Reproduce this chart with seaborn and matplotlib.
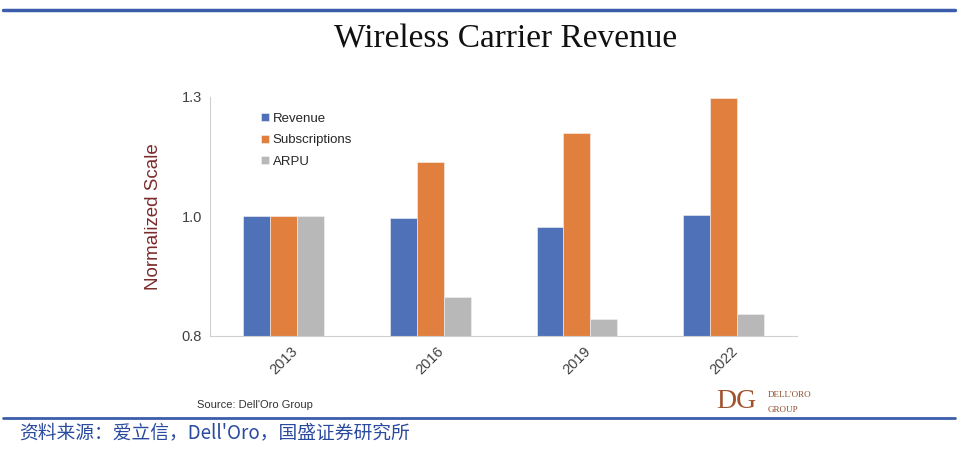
import pandas as pd
import matplotlib.pyplot as plt
from matplotlib.lines import Line2D
import seaborn as sns

# data
years = ["2013", "2016", "2019", "2022"]
revenue = [1.000, 0.996, 0.979, 1.004]
subscriptions = [1.000, 1.113, 1.174, 1.247]
arpu = [1.000, 0.831, 0.786, 0.795]
series = ["Revenue", "Subscriptions", "ARPU"]
colors = ["#4f71b8", "#e07f3e", "#b8b8b8"]
yticks = [0.75, 1.0, 1.25]
ytick_labels = ["0.8", "1.0", "1.3"]

df = pd.DataFrame({
    "year": years * 3,
    "value": revenue + subscriptions + arpu,
    "series": [s for s in series for _ in years],
})

sns.set_style("white")
plt.rcParams["font.family"] = ["Liberation Sans", "DejaVu Sans"]

fig = plt.figure(figsize=(9.6, 4.51), dpi=100)
ax = fig.add_axes([0.219, 0.255, 0.611, 0.530])

sns.barplot(data=df, x="year", y="value", hue="series", palette=colors,
            saturation=1, width=0.55, edgecolor="#f4f4f4", linewidth=0.4,
            ax=ax, legend=True)

ax.set_ylim(0.75, 1.25)
ax.set_xlim(-0.5, 3.5)
ax.set_yticks(yticks)
ax.set_yticklabels(ytick_labels, fontsize=10.5, color="#404040")
ax.set_xticks(range(len(years)))
ax.set_xticklabels(years, rotation=45, fontsize=10.5, color="#404040")
ax.set_xticks([-0.5, 0.5, 1.5, 2.5, 3.5], minor=True)
ax.tick_params(axis="x", which="major", length=0, pad=6)
ax.tick_params(axis="x", which="minor", length=4, color="#d0d0d0", width=0.8)
ax.tick_params(axis="y", length=4, color="#d0d0d0", width=0.8, pad=2)
ax.set_xlabel("")
ax.set_ylabel("Normalized Scale", fontsize=13.5, color="#7b2b2b", labelpad=14)
for side in ["top", "right"]:
    ax.spines[side].set_visible(False)
for side in ["left", "bottom"]:
    ax.spines[side].set_color("#d0d0d0")
    ax.spines[side].set_linewidth(0.8)

ax.legend(loc="upper left", bbox_to_anchor=(0.078, 0.955), frameon=False,
          fontsize=9.5, handlelength=0.55, handleheight=0.55, handletextpad=0.3,
          labelspacing=0.72, borderaxespad=0)

# title and decorations
fig.text(0.527, 0.912, "Wireless Carrier Revenue", ha="center", va="center",
         fontsize=24, family="Liberation Serif", color="#111111")
fig.text(0.205, 0.102, "Source: Dell'Oro Group", ha="left", va="center",
         fontsize=8, color="#333333")
fig.text(0.746, 0.110, "DG", ha="left", va="center", fontsize=20,
         family="Liberation Serif", color="#a0522d")
fig.text(0.800, 0.125, "DELL'ORO", ha="left", va="center", fontsize=6.5,
         family="Liberation Serif", color="#8b4a2b")
fig.text(0.800, 0.090, "GROUP", ha="left", va="center", fontsize=6.5,
         family="Liberation Serif", color="#8b4a2b")

fig.add_artist(Line2D([0.003, 0.995], [0.978, 0.978], color="#3b5daa", lw=2.5))
fig.add_artist(Line2D([0.003, 0.995], [0.073, 0.073], color="#3b5daa", lw=2.0))
fig.text(0.02, 0.040, "资料来源：爱立信，Dell'Oro，国盛证券研究所", ha="left", va="center",
         fontsize=13.5, color="#2a4aa0", style="italic",
         family=["Noto Sans CJK SC", "DejaVu Sans"])

fig.savefig("out.png", dpi=100, facecolor="white")
